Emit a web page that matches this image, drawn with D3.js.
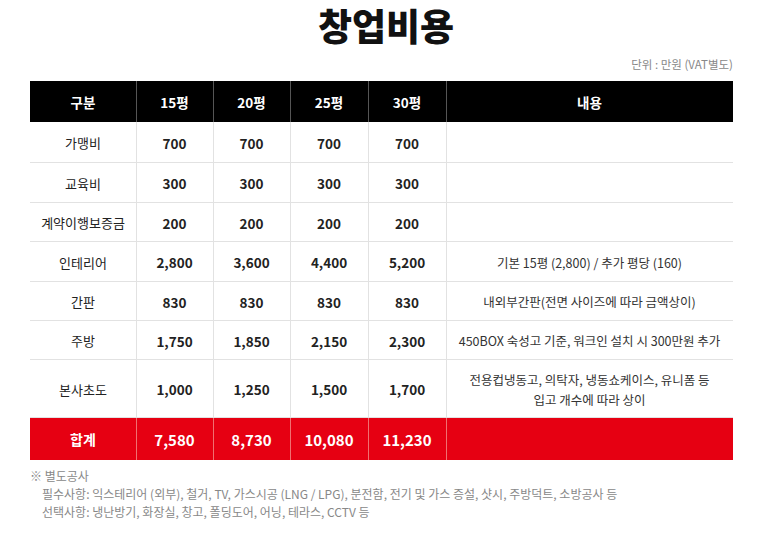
<!DOCTYPE html><html><head><meta charset="utf-8">
<script src="https://cdn.jsdelivr.net/npm/d3@7"></script>
<style>body{margin:0;background:#fff}svg{font-family:"Noto Sans CJK KR","Noto Sans",sans-serif}</style></head><body>
<svg id="c" width="773" height="534"></svg>
<script>
const title = "창업비용";
const unit = "단위 : 만원 (VAT별도)";
const headers = ["구분","15평","20평","25평","30평","내용"];
const categories = ["가맹비","교육비","계약이행보증금","인테리어","간판","주방","본사초도"];
const s15 = [700,300,200,2800,830,1750,1000];
const s20 = [700,300,200,3600,830,1850,1250];
const s25 = [700,300,200,4400,830,2150,1500];
const s30 = [700,300,200,5200,830,2300,1700];
const notes = [[""],[""],[""],["기본 15평 (2,800) / 추가 평당 (160)"],["내외부간판(전면 사이즈에 따라 금액상이)"],["450BOX 숙성고 기준, 워크인 설치 시 300만원 추가"],["전용컵냉동고, 의탁자, 냉동쇼케이스, 유니폼 등","입고 개수에 따라 상이"]];
const totalLabel = "합계";
const totals = [7580,8730,10080,11230];
const footnotes = ["※ 별도공사","필수사항: 익스테리어 (외부), 철거, TV, 가스시공 (LNG / LPG), 분전함, 전기 및 가스 증설, 샷시, 주방덕트, 소방공사 등","선택사항: 냉난방기, 화장실, 창고, 폴딩도어, 어닝, 테라스, CCTV 등"];

const svg = d3.select("#c");
const fmt = d3.format(",");
const colEdges = [30,136,213,290,368,446,733];
const rowH = [41,41,40,39,40,39,39,58,42];
const rowY = [81]; rowH.forEach(h=>rowY.push(rowY[rowY.length-1]+h));
const cx = i => (colEdges[i]+colEdges[i+1])/2;

svg.append("text").attr("x",386).attr("y",41).attr("text-anchor","middle").attr("font-size",37).attr("font-weight",900).attr("fill","#111").text(title);
svg.append("text").attr("x",733).attr("y",69).attr("text-anchor","end").attr("font-size",11.5).attr("fill","#888").text(unit);

svg.append("rect").attr("x",30).attr("y",rowY[0]).attr("width",703).attr("height",rowH[0]).attr("fill","#000");
svg.append("rect").attr("x",30).attr("y",rowY[8]).attr("width",703).attr("height",rowH[8]).attr("fill","#e60012");
for(let r=1;r<8;r++) svg.append("line").attr("x1",30).attr("x2",733).attr("y1",rowY[r+1]-0.5).attr("y2",rowY[r+1]-0.5).attr("stroke","#e2e2e2");
for(let c=1;c<6;c++){
  const x=colEdges[c]+0.5;
  svg.append("line").attr("x1",x).attr("x2",x).attr("y1",rowY[0]).attr("y2",rowY[1]).attr("stroke","#555");
  svg.append("line").attr("x1",x).attr("x2",x).attr("y1",rowY[1]).attr("y2",rowY[8]).attr("stroke","#e2e2e2");
  svg.append("line").attr("x1",x).attr("x2",x).attr("y1",rowY[8]).attr("y2",rowY[9]).attr("stroke","#f07070");
}
function txt(x,y,s,opt){return svg.append("text").attr("x",x).attr("y",y).attr("text-anchor","middle").attr("dominant-baseline","central").attr("font-size",opt.size||13).attr("font-weight",opt.w||400).attr("fill",opt.fill||"#222").text(s);}
headers.forEach((h,i)=>txt(cx(i),rowY[0]+rowH[0]/2,h,{w:700,fill:"#fff",size:13.5}));
const series=[s15,s20,s25,s30];
categories.forEach((c,r)=>{
  const y=rowY[r+1]+rowH[r+1]/2;
  txt(cx(0),y,c,{size:13});
  series.forEach((s,i)=>txt(cx(i+1),y,fmt(s[r]),{w:700,size:13.5}));
  const n=notes[r];
  n.forEach((line,k)=>txt(cx(5),y+(k-(n.length-1)/2)*20,line,{size:12.5,fill:"#333"}));
});
const ty=rowY[8]+rowH[8]/2;
txt(cx(0),ty,totalLabel,{w:700,fill:"#fff",size:14});
totals.forEach((v,i)=>txt(cx(i+1),ty,fmt(v),{w:700,fill:"#fff",size:15}));
svg.append("text").attr("x",30).attr("y",481).attr("font-size",12).attr("fill","#888").text(footnotes[0]);
svg.append("text").attr("x",42).attr("y",499).attr("font-size",12).attr("fill","#888").text(footnotes[1]);
svg.append("text").attr("x",42).attr("y",517).attr("font-size",12).attr("fill","#888").text(footnotes[2]);
</script></body></html>
